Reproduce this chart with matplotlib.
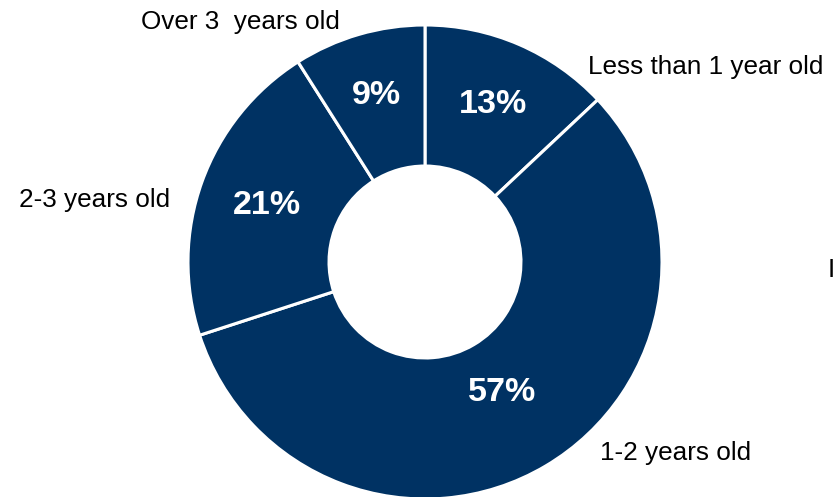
import matplotlib
matplotlib.use("Agg")
import matplotlib.pyplot as plt
import numpy as np

categories = ["Less than 1 year old", "1-2 years old", "2-3 years old", "Over 3  years old"]
values = [13, 57, 21, 9]
pct_labels = ["13%", "57%", "21%", "9%"]

plt.rcParams['font.family'] = ['Liberation Sans', 'DejaVu Sans']

W, H = 833, 497
fig = plt.figure(figsize=(W / 100, H / 100), dpi=100)
ax = fig.add_axes([0, 0, 1, 1])
cx, cy, R = 425, 262, 237

color = '#003263'
wedges, _ = ax.pie(values, startangle=90, counterclock=False, radius=1,
                   colors=[color] * len(values),
                   wedgeprops=dict(width=0.595, edgecolor='white', linewidth=2.2))
ax.set_xlim(-cx / R, (W - cx) / R)
ax.set_ylim(-(H - cy) / R, cy / R)
ax.set_aspect('auto')
ax.axis('off')

dists = [0.725, 0.64, 0.71, 0.73]
for w, lab, d in zip(wedges, pct_labels, dists):
    ang = np.deg2rad((w.theta1 + w.theta2) / 2)
    ax.text(d * np.cos(ang), d * np.sin(ang), lab, color='white', fontsize=24.5,
            fontweight='bold', ha='center', va='center')

# outer labels (pixel positions from top-left)
label_pos = [(588, 67, 'left'), (600, 453, 'left'), (170, 200, 'right'), (340, 22, 'right')]
for lab, (px, py, ha) in zip(categories, label_pos):
    fig.text(px / W, 1 - py / H, lab, fontsize=18.8, ha=ha, va='center', color='black')

# clipped text at the right edge
fig.text(828 / W, 1 - 270 / H, "I", fontsize=18.8, ha='left', va='center', color='black')

fig.savefig("out.png", dpi=100)
